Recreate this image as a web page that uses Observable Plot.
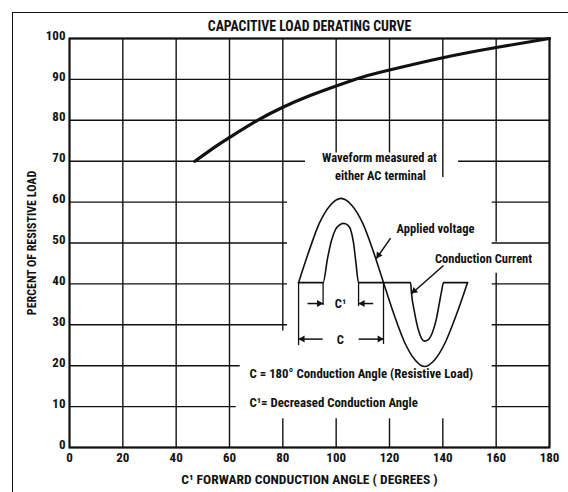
<!DOCTYPE html>
<html><head><meta charset="utf-8">
<script src="https://cdn.jsdelivr.net/npm/d3@7"></script>
<script src="https://cdn.jsdelivr.net/npm/@observablehq/plot@0.6"></script>
<style>
html,body{margin:0;padding:0;background:#fff;}
#wrap{position:relative;width:568px;height:492px;overflow:hidden;background:#fff;}
#border{position:absolute;left:12px;top:12px;width:700px;height:700px;border-left:1.5px solid #111;border-top:1.5px solid #111;}
#chart{position:absolute;left:0;top:0;}
</style></head><body>
<div id="wrap"><div id="border"></div><div id="chart"></div></div>
<script>
const FONT = '"Liberation Sans Narrow","Roboto Condensed","DejaVu Sans Condensed","Arial Narrow",sans-serif';
const INK = "#111";

const title = "CAPACITIVE LOAD DERATING CURVE";
const xLabel = "C\u00B9 FORWARD CONDUCTION ANGLE ( DEGREES )";
const yLabel = "PERCENT OF RESISTIVE LOAD";
const xTicks = [0,20,40,60,80,100,120,140,160,180];
const yTicks = [0,10,20,30,40,50,60,70,80,90,100];

// derating curve
const curveAngle   = [47, 55, 60, 70, 80, 90, 100, 110, 120, 140, 160, 180];
const curvePercent = [70, 73.7, 75.8, 79.8, 83.2, 86, 88.4, 90.6, 92.3, 95.3, 97.8, 100];

// grid segments (broken around the inset)
const vGridX  = [0, 20, 40, 60, 80, 80, 100, 100, 120, 120, 140, 140, 160, 160, 180];
const vGridY1 = [0, 0, 0, 0, 28.5, 0, 72, 0, 72, 0, 66, 0, 0, 50.2, 0];
const vGridY2 = [100, 100, 100, 100, 100, 7, 100, 7, 100, 7, 100, 7, 42.6, 100, 100];
const hGridY  = [0, 10, 10, 20, 20, 30, 30, 40, 40, 50, 50, 60, 60, 70, 70, 80, 90, 100];
const hGridX1 = [0, 0, 158.5, 0, 158.5, 0, 158.5, 0, 158.5, 0, 158.5, 0, 158.5, 0, 145.9, 0, 0, 0];
const hGridX2 = [180, 62.5, 180, 64, 180, 81.75, 180, 81.75, 180, 81.75, 180, 81.75, 180, 88.5, 180, 180, 180, 180];

// inset waveform: applied voltage (outer)
const voltX = [85.9, 89.9, 93.75, 97.9, 101.8, 105.75, 109.9, 113.8, 117.75, 121.7, 125.6, 129.6, 133.1, 136.9, 141, 145.1, 149.25];
const voltY = [40.3, 48.2, 54.9, 59.3, 60.9, 59.3, 54.9, 48.2, 40.3, 32.5, 25.8, 21.4, 19.8, 21.4, 25.8, 32.5, 40.3];
// conduction current (inner)
const currX = [85.9, 95.1, 96.75, 98.25, 99.75, 101.25, 102.75, 104.25, 105.4, 106.5, 107.4, 108.4, 127.9, 128.25, 129.4, 130.9, 132.0, 133.1, 134.6, 136.1, 137.6, 138.75, 139.5, 140.25, 149.25];
const currY = [40.3, 40.3, 46.2, 50.6, 53.3, 54.4, 54.8, 54.4, 53.3, 50.1, 45.2, 40.3, 40.3, 37.7, 33.0, 28.6, 26.7, 26.0, 26.4, 28.1, 31.5, 35.5, 38.1, 40.3, 40.3];

// dimension extension lines
const extX  = [85.9, 117.75, 95.1, 108.4];
const extY1 = [24.9, 25.2, 34.7, 34.5];
const extY2 = [40.3, 40.3, 40.3, 40.3];

// arrow shafts
const arrX1 = [89.25, 113.9, 94.9, 108.4, 120.4, 140.25];
const arrY1 = [35.2, 35.2, 26.5, 26.5, 51.2, 44.5];
const arrX2 = [95.1, 108.4, 85.9, 117.75, 115.1, 128.25];
const arrY2 = [35.2, 35.2, 26.5, 26.5, 46.2, 37.6];
// arrow heads
const headX = [93.6, 109.9, 87.4, 116.3, 115.9, 129.3];
const headY = [35.2, 35.2, 26.5, 26.5, 47.0, 38.3];
const headRot = [90, -90, -90, 90, -145, -131];

// annotations
const noteText = ["Waveform measured at", "either AC terminal", "Applied voltage", "Conduction Current", "C\u00B9", "C"];
const noteX = [116.25, 116.6, 137.25, 155.25, 101.6, 101.6];
const noteY = [70.7, 66.5, 53.5, 46.2, 35.2, 26.4];
const legendText = ["C = 180\u00B0 Conduction Angle (Resistive Load)", "C\u00B9= Decreased Conduction Angle"];
const legendX = [67.5, 67.5];
const legendY = [18.1, 11.0];

const zip = (keys, ...arrs) => arrs[0].map((_, i) => Object.fromEntries(keys.map((k, j) => [k, arrs[j][i]])));
const curve = zip(["x","y"], curveAngle, curvePercent);
const vGrid = zip(["x","y1","y2"], vGridX, vGridY1, vGridY2);
const hGrid = zip(["y","x1","x2"], hGridY, hGridX1, hGridX2);
const volt = zip(["x","y"], voltX, voltY);
const curr = zip(["x","y"], currX, currY);
const ext = zip(["x","y1","y2"], extX, extY1, extY2);
const arrows = zip(["x1","y1","x2","y2"], arrX1, arrY1, arrX2, arrY2);
const heads = zip(["x","y","r"], headX, headY, headRot);
const notes = zip(["t","x","y"], noteText, noteX, noteY);
const legend = zip(["t","x","y"], legendText, legendX, legendY);

const chart = Plot.plot({
  width: 568, height: 492,
  marginLeft: 69, marginRight: 19, marginTop: 38, marginBottom: 45,
  x: {domain: [0, 180]},
  y: {domain: [0, 100]},
  style: {fontFamily: FONT, fontWeight: "bold", fontSize: "12px", color: INK, background: "transparent"},
  marks: [
    Plot.ruleX(vGrid, {x: "x", y1: "y1", y2: "y2", stroke: INK, strokeWidth: 1.4}),
    Plot.ruleY(hGrid, {y: "y", x1: "x1", x2: "x2", stroke: INK, strokeWidth: 1.4}),
    Plot.frame({stroke: INK, strokeWidth: 2}),
    Plot.line(curve, {x: "x", y: "y", curve: "natural", stroke: INK, strokeWidth: 3.2}),
    Plot.line(volt, {x: "x", y: "y", curve: "monotone-x", stroke: INK, strokeWidth: 1.6}),
    Plot.line(curr, {x: "x", y: "y", curve: "monotone-x", stroke: INK, strokeWidth: 1.6}),
    Plot.ruleX(ext, {x: "x", y1: "y1", y2: "y2", stroke: INK, strokeWidth: 1.3}),
    Plot.link(arrows, {x1: "x1", y1: "y1", x2: "x2", y2: "y2", stroke: INK, strokeWidth: 1.5}),
    Plot.dot(heads, {x: "x", y: "y", rotate: "r", symbol: "triangle", r: 2.6, fill: INK, stroke: "none"}),
    Plot.text(notes, {x: "x", y: "y", text: "t", textAnchor: "middle", lineAnchor: "middle", fontSize: 12.5, fontWeight: "bold", fill: INK}),
    Plot.text(legend, {x: "x", y: "y", text: "t", textAnchor: "start", lineAnchor: "middle", fontSize: 12.8, fontWeight: "bold", fill: INK}),
    Plot.axisX(xTicks, {tickSize: 0, tickPadding: 5, fontSize: 13, label: null}),
    Plot.axisY(yTicks, {tickSize: 0, tickPadding: 4, dy: -3, fontSize: 13, label: null}),
    Plot.text([title], {frameAnchor: "top", dy: -12, textAnchor: "middle", lineAnchor: "middle", fontSize: 13.8, fontWeight: "bold", fill: INK}),
    Plot.text([xLabel], {frameAnchor: "bottom", dy: 32, textAnchor: "middle", lineAnchor: "middle", fontSize: 13.5, fontWeight: "bold", fill: INK}),
    Plot.text([yLabel], {frameAnchor: "left", dx: -37, rotate: -90, textAnchor: "middle", lineAnchor: "middle", fontSize: 12, fontWeight: "bold", fill: INK})
  ]
});
document.getElementById("chart").appendChild(chart);
</script>
</body></html>
